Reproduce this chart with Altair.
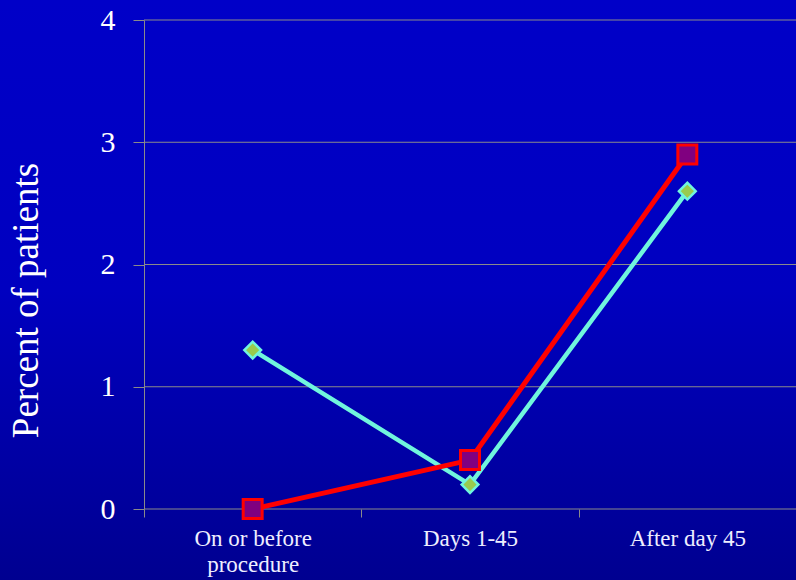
import altair as alt
import pandas as pd

categories = ["On or before procedure", "Days 1-45", "After day 45"]
series_names = ["Series A", "Series B"]
series_a = [1.3, 0.2, 2.6]
series_b = [0.0, 0.4, 2.9]
y_ticks = [0, 1, 2, 3, 4]

rows = []
for name, vals in zip(series_names, [series_a, series_b]):
    for c, v in zip(categories, vals):
        rows.append({"cat": c, "series": name, "value": v})
df = pd.DataFrame(rows)
grid_df = pd.DataFrame({"value": y_ticks})

serif = "Liberation Serif"
gray = "#8a8a8a"

x_enc = alt.X(
    "cat:N",
    sort=categories,
    scale=alt.Scale(type="band", paddingInner=0, paddingOuter=0),
    axis=alt.Axis(
        title=None,
        labelAngle=0,
        labelFont=serif,
        labelFontSize=23,
        labelColor="#EEEEFF",
        labelBaseline="alphabetic",
        labelLineHeight=26,
        labelPadding=28,
        labelExpr="datum.label == 'On or before procedure' ? ['On or before', 'procedure'] : datum.label",
        tickBand="extent",
        tickSize=8,
        tickColor=gray,
        domain=False,
        grid=False,
        zindex=1,
    ),
)
y_scale = alt.Scale(domain=[0, 4], nice=False, zero=True)
y_axis = alt.Axis(
    title="Percent of patients",
    values=y_ticks,
    format="d",
    labelFont=serif,
    labelFontSize=30,
    labelColor="#FFFFFF",
    labelPadding=18,
    tickSize=11,
    tickColor=gray,
    domainColor=gray,
    grid=False,
    zindex=1,
    titleFont=serif,
    titleFontSize=37,
    titleFontWeight="normal",
    titleColor="#FFFFFF",
    titleX=-118,
    titleY=280,
    titleAngle=270,
    titleAlign="center",
    titleBaseline="middle",
)
y_enc = alt.Y("value:Q", scale=y_scale, axis=y_axis)

bg = alt.Chart(alt.Data(values=[{"k": 1}])).mark_rect(
    fill=alt.Gradient(
        gradient="linear",
        stops=[
            alt.GradientStop(color="#0000C8", offset=0),
            alt.GradientStop(color="#0000C0", offset=0.5),
            alt.GradientStop(color="#000090", offset=1),
        ],
        x1=0, x2=0, y1=0, y2=1,
    ),
    strokeWidth=0,
).encode(
    x=alt.value(-144), x2=alt.value(660), y=alt.value(-20), y2=alt.value(560)
)

grid = alt.Chart(grid_df).mark_rule(color=gray, strokeWidth=1).encode(
    y=y_enc,
    x=alt.value(0),
    x2=alt.value(652),
)

base = alt.Chart(df)

line_a = base.transform_filter(alt.datum.series == "Series A").mark_line(
    color="#70F5DD", strokeWidth=4.5
).encode(x=x_enc, y=y_enc)
line_b = base.transform_filter(alt.datum.series == "Series B").mark_line(
    color="#FF0000", strokeWidth=5
).encode(x=x_enc, y=y_enc)
pts_a = base.transform_filter(alt.datum.series == "Series A").mark_point(
    shape="diamond", filled=True, fill="#99CC4D", stroke="#70F5DD",
    strokeWidth=2.5, size=280, opacity=1
).encode(x=x_enc, y=y_enc)
pts_b = base.transform_filter(alt.datum.series == "Series B").mark_point(
    shape="square", filled=True, fill="#800080", stroke="#FF0000",
    strokeWidth=3, size=360, opacity=1
).encode(x=x_enc, y=y_enc)

chart = alt.layer(bg, grid, line_a, pts_a, line_b, pts_b).properties(
    width=652,
    height=489,
    autosize=alt.AutoSizeParams(type="none"),
    padding={"left": 144, "top": 20, "right": 0, "bottom": 71},
    background="#0000B8",
).configure_view(stroke=None)

chart.save("out.html", embed_options={"renderer": "svg", "actions": False})
